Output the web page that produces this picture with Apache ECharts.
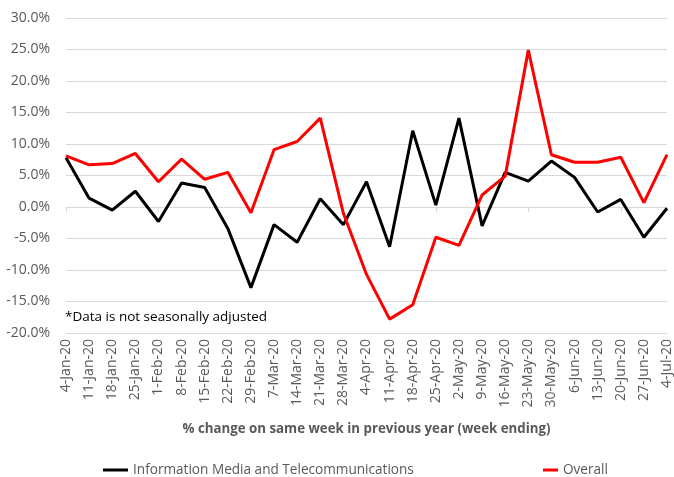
<!DOCTYPE html>
<html><head><meta charset="utf-8">
<script src="https://cdn.jsdelivr.net/npm/echarts@6/dist/echarts.min.js"></script>
<style>html,body{margin:0;padding:0;background:#fff}#c{width:674px;height:477px}</style>
</head><body><div id="c"></div>
<script>
const categories = ['4-Jan-20','11-Jan-20','18-Jan-20','25-Jan-20','1-Feb-20','8-Feb-20','15-Feb-20','22-Feb-20','29-Feb-20','7-Mar-20','14-Mar-20','21-Mar-20','28-Mar-20','4-Apr-20','11-Apr-20','18-Apr-20','25-Apr-20','2-May-20','9-May-20','16-May-20','23-May-20','30-May-20','6-Jun-20','13-Jun-20','20-Jun-20','27-Jun-20','4-Jul-20'];
const infoMedia = [7.8,1.4,-0.5,2.5,-2.3,3.8,3.1,-3.4,-12.8,-2.8,-5.6,1.3,-2.8,4.0,-6.3,12.1,0.3,14.1,-3.0,5.5,4.1,7.3,4.7,-0.8,1.2,-4.8,-0.2];
const overall = [8.1,6.7,6.9,8.5,4.0,7.6,4.4,5.5,-0.9,9.1,10.4,14.1,-1.0,-10.7,-17.8,-15.5,-4.8,-6.1,1.9,4.9,24.9,8.3,7.1,7.1,7.9,0.7,8.3];
const yTicks = {min:-20, max:30, interval:5};
const seriesNames = ['Information Media and Telecommunications','Overall'];
const xTitle = '% change on same week in previous year (week ending)';
const note = '*Data is not seasonally adjusted';

const font = '"Open Sans", sans-serif';
const legendText = {fontFamily:font, fontSize:13.6, color:'#595959'};
const chart = echarts.init(document.getElementById('c'));
chart.setOption({
  animation:false,
  textStyle:{fontFamily:font},
  grid:{left:66, right:3, top:18, bottom:144},
  legend:[
    {data:[seriesNames[0]], top:458, left:98, itemWidth:25, itemHeight:3, icon:'rect', textStyle:legendText},
    {data:[seriesNames[1]], top:458, left:538, itemWidth:15, itemHeight:3, icon:'rect', textStyle:legendText}
  ],
  graphic:[{type:'text', left:65, top:310, style:{text:note, font:'13.5px '+font, fill:'#000'}}],
  xAxis:[{
    type:'category', data:categories, boundaryGap:false, position:'bottom',
    axisLine:{onZero:true, lineStyle:{color:'#d9d9d9', width:1}},
    axisTick:{show:true, length:5, lineStyle:{color:'#d9d9d9'}},
    axisLabel:{show:false}
  },{
    type:'category', data:categories, boundaryGap:false, position:'bottom',
    axisLine:{show:false}, axisTick:{show:false},
    axisLabel:{rotate:90, interval:0, fontSize:14, color:'#595959', margin:6, fontFamily:font},
    name:xTitle, nameLocation:'middle', nameGap:90,
    nameTextStyle:{fontSize:13.3, fontWeight:'bold', color:'#595959', fontFamily:font}
  }],
  yAxis:{
    type:'value', min:yTicks.min, max:yTicks.max, interval:yTicks.interval,
    axisLine:{show:false}, axisTick:{show:false},
    axisLabel:{formatter:v=>v.toFixed(1)+'%', fontSize:14, color:'#595959', margin:16, fontFamily:font},
    splitLine:{lineStyle:{color:'#d9d9d9', width:1}}
  },
  series:[
    {name:seriesNames[0], type:'line', data:infoMedia, symbol:'none', lineStyle:{color:'#000', width:3}, itemStyle:{color:'#000'}},
    {name:seriesNames[1], type:'line', data:overall, symbol:'none', lineStyle:{color:'#ff0000', width:3}, itemStyle:{color:'#ff0000'}}
  ]
});
</script></body></html>
